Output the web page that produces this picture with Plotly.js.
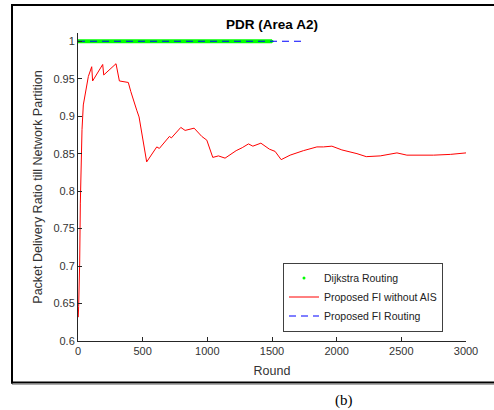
<!DOCTYPE html>
<html>
<head>
<meta charset="utf-8">
<script src="https://cdn.plot.ly/plotly-3.0.1.min.js"></script>
<style>html,body{margin:0;padding:0;background:#fff;}#chart{width:494px;height:410px;}</style>
</head>
<body>
<div id="chart"></div>
<script>
// ---- data ----
var seriesNames = ["Dijkstra Routing", "Proposed FI without AIS", "Proposed FI Routing"];

var dijkstraRounds = [0, 1500];
var dijkstraPDR    = [1, 1];

var fiNoAisRounds = [0, 2, 5, 13, 18, 23, 31, 41, 62, 80, 106, 113, 191, 199, 294, 320, 389, 408, 454, 472,
  531, 609, 629, 707, 722, 795, 828, 898, 957, 996, 1042, 1086, 1137, 1180, 1223, 1270, 1318, 1352, 1414,
  1480, 1524, 1571, 1640, 1743, 1847, 1898, 1963, 2040, 2092, 2157, 2229, 2337, 2466, 2543, 2749, 2879, 3000];
var fiNoAisPDR = [0.632, 0.632, 0.646, 0.704, 0.784, 0.837, 0.882, 0.915, 0.937, 0.953, 0.966, 0.947, 0.969, 0.955, 0.970, 0.947, 0.945, 0.933, 0.908, 0.899,
  0.839, 0.859, 0.857, 0.873, 0.871, 0.885, 0.881, 0.884, 0.873, 0.868, 0.845, 0.847, 0.844, 0.849, 0.854, 0.858, 0.863, 0.860, 0.864,
  0.856, 0.853, 0.842, 0.848, 0.854, 0.859, 0.859, 0.860, 0.855, 0.853, 0.850, 0.846, 0.847, 0.851, 0.848, 0.848, 0.849, 0.851];

var fiRoutingRounds = [0, 1730];
var fiRoutingPDR    = [1, 1];

var xTickVals = [0, 500, 1000, 1500, 2000, 2500, 3000];
var yTickVals = [0.6, 0.65, 0.7, 0.75, 0.8, 0.85, 0.9, 0.95, 1];
var yTickText = ["0.6", "0.65", "0.7", "0.75", "0.8", "0.85", "0.9", "0.95", "1"];

// ---- layout geometry (pixels) ----
var W = 494, H = 410, L = 78, R = 28, T = 33, B = 69;
var PW = W - L - R, PH = H - T - B;
function px(p) { return (p - L) / PW; }
function py(p) { return (H - B - p) / PH; }

var font = "Liberation Sans, Arial, Helvetica, sans-serif";
var axisCol = "#262626";

var traces = [
  { x: dijkstraRounds, y: dijkstraPDR, mode: "lines", line: { color: "#00ff00", width: 4 },
    showlegend: false, hoverinfo: "skip" },
  { x: dijkstraRounds, y: dijkstraPDR, mode: "markers", name: seriesNames[0],
    marker: { color: "#00ff00", size: 3 } },
  { x: fiNoAisRounds, y: fiNoAisPDR, mode: "lines", name: seriesNames[1],
    line: { color: "#ff0000", width: 1 } },
  { x: fiRoutingRounds, y: fiRoutingPDR, mode: "lines", name: seriesNames[2],
    line: { color: "#0000ff", width: 1.2, dash: "7px,5px" } }
];

var layout = {
  width: W, height: H,
  margin: { l: L, r: R, t: T, b: B, pad: 0 },
  paper_bgcolor: "#fff", plot_bgcolor: "#fff",
  font: { family: font, size: 11, color: axisCol },
  title: { text: "PDR (Area A2)", font: { family: font, size: 13.5, weight: "bold", color: "#000" },
           x: 0.5, xref: "paper", xanchor: "center", y: 1 - 24 / H, yref: "container", yanchor: "middle" },
  xaxis: {
    range: [0, 3000], tickvals: xTickVals, ticks: "inside", ticklen: 4, tickcolor: axisCol,
    showline: true, linecolor: axisCol, linewidth: 1, mirror: false, showgrid: false, zeroline: false,
    tickfont: { family: font, size: 11, color: "#333" },
    title: { text: "Round", font: { family: font, size: 12.5, color: "#333" }, standoff: 10 }
  },
  yaxis: {
    range: [0.6, 1.011], tickvals: yTickVals, ticktext: yTickText, ticks: "inside", ticklen: 4, tickcolor: axisCol,
    showline: true, linecolor: axisCol, linewidth: 1, mirror: false, showgrid: false, zeroline: false,
    tickfont: { family: font, size: 11, color: "#333" },
    title: { text: "Packet Delivery Ratio till Network Partition", font: { family: font, size: 12.5, color: "#333" }, standoff: 8 }
  },
  legend: {
    x: px(283), y: py(297), xanchor: "left", yanchor: "middle",
    bgcolor: "#fff", bordercolor: "#404040", borderwidth: 1,
    font: { family: font, size: 10.5, color: "#222" }, tracegroupgap: 0
  },
  shapes: [
    { type: "line", xref: "paper", yref: "paper", x0: px(12), x1: px(500), y0: py(5), y1: py(5), line: { color: "#000", width: 2 } },
    { type: "line", xref: "paper", yref: "paper", x0: px(12), x1: px(12), y0: py(4), y1: py(383.5), line: { color: "#000", width: 2 } },
    { type: "line", xref: "paper", yref: "paper", x0: px(11), x1: px(500), y0: py(382.5), y1: py(382.5), line: { color: "#000", width: 2 } },
    { type: "line", xref: "paper", yref: "paper", x0: px(12), x1: px(500), y0: py(384.5), y1: py(384.5), line: { color: "#aaa", width: 1 } }
  ],
  annotations: [
    { text: "(b)", xref: "paper", yref: "paper", x: px(344), y: py(400), xanchor: "center", yanchor: "middle",
      showarrow: false, font: { family: "Liberation Serif, Times New Roman, serif", size: 15, color: "#000" } }
  ]
};

Plotly.newPlot("chart", traces, layout, { staticPlot: true, displayModeBar: false });
</script>
</body>
</html>
